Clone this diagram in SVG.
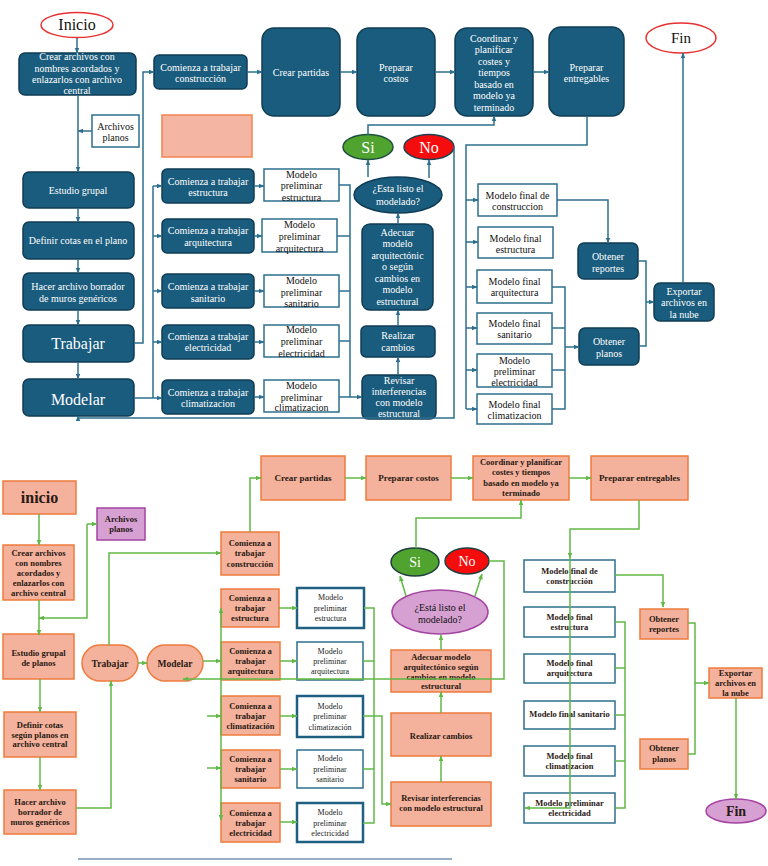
<svg xmlns="http://www.w3.org/2000/svg" width="768" height="866" viewBox="0 0 768 866">
<style>
.tn{fill:#1a5c7d;stroke:#103d55;stroke-width:1.5}
.tw{fill:#fff;stroke:#2d6f8f;stroke-width:1.5}
.tt{font-family:"Liberation Serif",serif;font-size:10px;fill:#fff;text-anchor:middle}
.tk{font-family:"Liberation Serif",serif;font-size:10px;fill:#111;text-anchor:middle}
.tl{fill:none;stroke:#2d6f8f;stroke-width:1.5}
.ta{fill:none;stroke:#2d6f8f;stroke-width:1.5;marker-end:url(#at)}
.bn{fill:#f4b19b;stroke:#ee7b3d;stroke-width:1.5}
.bp{fill:#d6a0d2;stroke:#a544a2;stroke-width:1.5}
.bw{fill:#fff;stroke:#2d6f8f;stroke-width:1.5}
.bw2{fill:#fff;stroke:#1f6080;stroke-width:2.5}
.bt{font-family:"Liberation Serif",serif;font-size:8.5px;font-weight:bold;fill:#2a1a14;text-anchor:middle}
.br{font-family:"Liberation Serif",serif;font-size:8px;fill:#222;text-anchor:middle}
.bl{fill:none;stroke:#62b846;stroke-width:1.5}
.ba{fill:none;stroke:#62b846;stroke-width:1.5;marker-end:url(#ag)}
</style>
<defs>
<marker id="at" viewBox="0 0 10 10" refX="9" refY="5" markerWidth="6" markerHeight="6" markerUnits="userSpaceOnUse" orient="auto-start-reverse"><path d="M0 1L10 5L0 9z" fill="#2d6f8f"/></marker>
<marker id="ag" viewBox="0 0 10 10" refX="9" refY="5" markerWidth="6" markerHeight="6" markerUnits="userSpaceOnUse" orient="auto-start-reverse"><path d="M0 1L10 5L0 9z" fill="#62b846"/></marker>
</defs>
<rect width="768" height="866" fill="#fff"/>

<!-- TOP DIAGRAM -->
<g id="t-inicio"><ellipse cx="77" cy="25" rx="36" ry="12.5" fill="#fff" stroke="#e83030" stroke-width="1.5"/><text x="77" y="30" class="tk" style="font-size:16px">Inicio</text></g>
<g id="t-crear"><rect x="19" y="53" width="117" height="42" rx="6" class="tn"/><text class="tt"><tspan x="77" y="60">Crear archivos con</tspan><tspan x="77" y="71.5">nombres acordados y</tspan><tspan x="77" y="83">enlazarlos con archivo</tspan><tspan x="77" y="94">central</tspan></text></g>
<g id="t-archivos"><rect x="92" y="115" width="47" height="32" class="tw"/><text class="tk"><tspan x="115.5" y="129.5">Archivos</tspan><tspan x="115.5" y="140.5">planos</tspan></text></g>
<g id="t-estudio"><rect x="23" y="172" width="111" height="36" rx="6" class="tn"/><text x="78" y="193.5" class="tt">Estudio grupal</text></g>
<g id="t-definir"><rect x="23" y="222" width="111" height="37" rx="6" class="tn"/><text x="78" y="243.5" class="tt">Definir cotas en el plano</text></g>
<g id="t-hacer"><rect x="23" y="273" width="111" height="37" rx="6" class="tn"/><text class="tt"><tspan x="78" y="289.5">Hacer archivo borrador</tspan><tspan x="78" y="301.5">de muros genéricos</tspan></text></g>
<g id="t-trabajar"><rect x="23" y="325" width="111" height="37" rx="6" class="tn"/><text x="78" y="349" class="tt" style="font-size:16px">Trabajar</text></g>
<g id="t-modelar"><rect x="23" y="379" width="111" height="37" rx="6" class="tn"/><text x="78" y="404.5" class="tt" style="font-size:16px">Modelar</text></g>
<g id="t-salmon"><rect x="162" y="115" width="90" height="42" fill="#f4b6a2" stroke="#f08450" stroke-width="1.5"/></g>
<g id="t-com-cons"><rect x="154" y="55" width="93" height="34" rx="5" class="tn"/><text class="tt"><tspan x="200.5" y="70.5">Comienza a trabajar</tspan><tspan x="200.5" y="81.5">construcción</tspan></text></g>
<g id="t-partidas"><rect x="262" y="28" width="78" height="88" rx="12" class="tn"/><text x="301" y="75.5" class="tt">Crear partidas</text></g>
<g id="t-costos"><rect x="357" y="28" width="78" height="88" rx="12" class="tn"/><text class="tt"><tspan x="396" y="70.5">Preparar</tspan><tspan x="396" y="81.5">costos</tspan></text></g>
<g id="t-coord"><rect x="455" y="28" width="78" height="88" rx="12" class="tn"/><text class="tt"><tspan x="494" y="41.5">Coordinar y</tspan><tspan x="494" y="53">planificar</tspan><tspan x="494" y="64.5">costes y</tspan><tspan x="494" y="76">tiempos</tspan><tspan x="494" y="87.5">basado en</tspan><tspan x="494" y="99">modelo ya</tspan><tspan x="494" y="110.5">terminado</tspan></text></g>
<g id="t-entreg"><rect x="549" y="27" width="75" height="89" rx="12" class="tn"/><text class="tt"><tspan x="586.5" y="70.5">Preparar</tspan><tspan x="586.5" y="81.5">entregables</tspan></text></g>
<g id="t-fin"><ellipse cx="681" cy="38" rx="35" ry="15" fill="#fff" stroke="#e83030" stroke-width="1.5"/><text x="681" y="43" class="tk" style="font-size:15px">Fin</text></g>
<g id="t-si"><ellipse cx="368" cy="147" rx="25" ry="12.5" fill="#4fa32e" stroke="#1f4f3f" stroke-width="1.5"/><text x="368" y="152.5" class="tt" style="font-size:16px">Si</text></g>
<g id="t-no"><ellipse cx="429" cy="147" rx="25" ry="12.5" fill="#f50d0d" stroke="#1f3f4f" stroke-width="1.5"/><text x="429" y="152.5" class="tt" style="font-size:16px">No</text></g>
<g id="t-listo"><ellipse cx="398" cy="195" rx="44" ry="18" class="tn"/><text class="tt"><tspan x="398" y="191.5">¿Esta listo el</tspan><tspan x="398" y="204.5">modelado?</tspan></text></g>
<g id="t-adecuar"><rect x="362" y="224" width="71" height="86" rx="8" class="tn"/><text class="tt"><tspan x="397.5" y="235.5">Adecuar</tspan><tspan x="397.5" y="247">modelo</tspan><tspan x="397.5" y="258.5">arquitectónic</tspan><tspan x="397.5" y="270">o según</tspan><tspan x="397.5" y="281.5">cambios en</tspan><tspan x="397.5" y="293">modelo</tspan><tspan x="397.5" y="304.5">estructural</tspan></text></g>
<g id="t-realizar"><rect x="361" y="326" width="74" height="31" rx="5" class="tn"/><text class="tt"><tspan x="398" y="338.5">Realizar</tspan><tspan x="398" y="350.5">cambios</tspan></text></g>
<g id="t-revisar"><rect x="362" y="375" width="74" height="44" rx="6" class="tn"/><text class="tt"><tspan x="399" y="383.5">Revisar</tspan><tspan x="399" y="394.5">interferencias</tspan><tspan x="399" y="405.5">con modelo</tspan><tspan x="399" y="417">estructural</tspan></text></g>
<g id="t-com-est"><rect x="162" y="169" width="92" height="34" rx="5" class="tn"/><text class="tt"><tspan x="208" y="184.5">Comienza a trabajar</tspan><tspan x="208" y="195.5">estructura</tspan></text></g>
<g id="t-com-arq"><rect x="162" y="219" width="92" height="34" rx="5" class="tn"/><text class="tt"><tspan x="208" y="233.5">Comienza a trabajar</tspan><tspan x="208" y="245.5">arquitectura</tspan></text></g>
<g id="t-com-san"><rect x="162" y="274" width="92" height="34" rx="5" class="tn"/><text class="tt"><tspan x="208" y="289.5">Comienza a trabajar</tspan><tspan x="208" y="301.5">sanitario</tspan></text></g>
<g id="t-com-ele"><rect x="162" y="325" width="92" height="34" rx="5" class="tn"/><text class="tt"><tspan x="208" y="339.5">Comienza a trabajar</tspan><tspan x="208" y="350.5">electricidad</tspan></text></g>
<g id="t-com-cli"><rect x="162" y="380" width="92" height="34" rx="5" class="tn"/><text class="tt"><tspan x="208" y="395.5">Comienza a trabajar</tspan><tspan x="208" y="406.5">climatizacion</tspan></text></g>
<g id="t-pre-est"><rect x="264" y="169" width="75" height="32" class="tw"/><text class="tk"><tspan x="301.5" y="177.5">Modelo</tspan><tspan x="301.5" y="189">preliminar</tspan><tspan x="301.5" y="200.5">estructura</tspan></text></g>
<g id="t-pre-arq"><rect x="262" y="219" width="75" height="33" class="tw"/><text class="tk"><tspan x="299.5" y="227.5">Modelo</tspan><tspan x="299.5" y="239.5">preliminar</tspan><tspan x="299.5" y="251.5">arquitectura</tspan></text></g>
<g id="t-pre-san"><rect x="264" y="275" width="75" height="32" class="tw"/><text class="tk"><tspan x="301.5" y="283.5">Modelo</tspan><tspan x="301.5" y="295.5">preliminar</tspan><tspan x="301.5" y="306.5">sanitario</tspan></text></g>
<g id="t-pre-ele"><rect x="264" y="325" width="75" height="32" class="tw"/><text class="tk"><tspan x="301.5" y="332.5">Modelo</tspan><tspan x="301.5" y="345">preliminar</tspan><tspan x="301.5" y="356.5">electricidad</tspan></text></g>
<g id="t-pre-cli"><rect x="264" y="380" width="75" height="32" class="tw"/><text class="tk"><tspan x="301.5" y="388.5">Modelo</tspan><tspan x="301.5" y="400.5">preliminar</tspan><tspan x="301.5" y="411">climatizacion</tspan></text></g>
<g id="t-fin-cons"><rect x="478" y="184" width="79" height="32" class="tw"/><text class="tk"><tspan x="517.5" y="198.5">Modelo final de</tspan><tspan x="517.5" y="209.5">construccion</tspan></text></g>
<g id="t-fin-est"><rect x="478" y="227" width="75" height="31" class="tw"/><text class="tk"><tspan x="515.5" y="241.5">Modelo final</tspan><tspan x="515.5" y="252.5">estructura</tspan></text></g>
<g id="t-fin-arq"><rect x="477" y="270" width="75" height="33" class="tw"/><text class="tk"><tspan x="514.5" y="284.5">Modelo final</tspan><tspan x="514.5" y="295.5">arquitectura</tspan></text></g>
<g id="t-fin-san"><rect x="477" y="313" width="75" height="31" class="tw"/><text class="tk"><tspan x="514.5" y="326.5">Modelo final</tspan><tspan x="514.5" y="337.5">sanitario</tspan></text></g>
<g id="t-fin-ele"><rect x="477" y="354" width="75" height="33" class="tw"/><text class="tk"><tspan x="514.5" y="363.5">Modelo</tspan><tspan x="514.5" y="374.5">preliminar</tspan><tspan x="514.5" y="385.5">electricidad</tspan></text></g>
<g id="t-fin-cli"><rect x="477" y="394" width="75" height="30" class="tw"/><text class="tk"><tspan x="514.5" y="407.5">Modelo final</tspan><tspan x="514.5" y="419">climatizacion</tspan></text></g>
<g id="t-reportes"><rect x="578" y="243" width="60" height="36" rx="6" class="tn"/><text class="tt"><tspan x="608" y="259.5">Obtener</tspan><tspan x="608" y="271.5">reportes</tspan></text></g>
<g id="t-planos"><rect x="579" y="328" width="60" height="37" rx="6" class="tn"/><text class="tt"><tspan x="609" y="344.5">Obtener</tspan><tspan x="609" y="356.5">planos</tspan></text></g>
<g id="t-exportar"><rect x="654" y="283" width="60" height="38" rx="6" class="tn"/><text class="tt"><tspan x="684" y="294.5">Exportar</tspan><tspan x="684" y="305.5">archivos en</tspan><tspan x="684" y="317.5">la nube</tspan></text></g>

<g id="t-connectors">
<path class="ta" d="M77 38V53"/>
<path class="ta" d="M78 95V172"/>
<path class="ta" d="M92 131H78"/>
<path class="ta" d="M78 208V222"/>
<path class="ta" d="M78 259V273"/>
<path class="ta" d="M78 310V325"/>
<path class="ta" d="M78 362V379"/>
<path class="ta" d="M134 343H143V72H154"/>
<path class="ta" d="M134 398H162"/>
<path class="tl" d="M153 186V398"/>
<path class="ta" d="M153 186H162"/>
<path class="ta" d="M153 236H162"/>
<path class="ta" d="M153 291H162"/>
<path class="ta" d="M153 342H162"/>
<path class="ta" d="M247 72H262"/>
<path class="ta" d="M340 72H357"/>
<path class="ta" d="M435 72H455"/>
<path class="ta" d="M533 72H549"/>
<path class="ta" d="M254 186H264"/>
<path class="ta" d="M254 236H262"/>
<path class="ta" d="M254 291H264"/>
<path class="ta" d="M254 342H264"/>
<path class="ta" d="M254 397H264"/>
<path class="tl" d="M339 185H350V397"/>
<path class="tl" d="M337 236H350"/>
<path class="tl" d="M339 291H350"/>
<path class="tl" d="M339 341H350"/>
<path class="ta" d="M339 397H362"/>
<path class="ta" d="M398 375V357"/>
<path class="ta" d="M398 326V310"/>
<path class="ta" d="M398 224V213"/>
<path class="ta" d="M368 177V160"/>
<path class="ta" d="M429 178V160"/>
<path class="ta" d="M368 135V125H494V116"/>
<path class="ta" d="M454 147V418H78V416"/>
<path class="tl" d="M587 116V145H466V409"/>
<path class="ta" d="M466 200H478"/>
<path class="ta" d="M466 242H478"/>
<path class="ta" d="M466 287H477"/>
<path class="ta" d="M466 328H477"/>
<path class="ta" d="M466 370H477"/>
<path class="ta" d="M466 409H477"/>
<path class="ta" d="M557 200H608V243"/>
<path class="tl" d="M552 287H565V409H552"/>
<path class="tl" d="M552 328H565"/>
<path class="tl" d="M552 370H565"/>
<path class="ta" d="M565 347H579"/>
<path class="tl" d="M638 261H646V346H639"/>
<path class="ta" d="M646 302H654"/>
<path class="ta" d="M683 283V53"/>
</g>

<!-- BOTTOM DIAGRAM -->
<g id="b-inicio"><rect x="3" y="481" width="73" height="33" class="bn"/><text x="39.5" y="503" class="bt" style="font-size:16px">inicio</text></g>
<g id="b-crear"><rect x="3" y="545" width="71" height="55" class="bn"/><text class="bt"><tspan x="38.5" y="556">Crear archivos</tspan><tspan x="38.5" y="566">con nombres</tspan><tspan x="38.5" y="576">acordados y</tspan><tspan x="38.5" y="586">enlazarlos con</tspan><tspan x="38.5" y="596">archivo central</tspan></text></g>
<g id="b-archivos"><rect x="97" y="508" width="48" height="32" class="bp"/><text class="bt"><tspan x="121" y="522">Archivos</tspan><tspan x="121" y="532">planos</tspan></text></g>
<g id="b-estudio"><rect x="3" y="634" width="71" height="45" class="bn"/><text class="bt"><tspan x="38.5" y="656">Estudio grupal</tspan><tspan x="38.5" y="666">de planos</tspan></text></g>
<g id="b-definir"><rect x="4" y="712" width="72" height="45" class="bn"/><text class="bt"><tspan x="40" y="728">Definir cotas</tspan><tspan x="40" y="738">según planos en</tspan><tspan x="40" y="747">archivo central</tspan></text></g>
<g id="b-hacer"><rect x="4" y="790" width="72" height="44" class="bn"/><text class="bt"><tspan x="40" y="805">Hacer archivo</tspan><tspan x="40" y="815">borrador de</tspan><tspan x="40" y="825">muros genéricos</tspan></text></g>
<g id="b-trabajar"><rect x="82" y="645" width="56" height="36" rx="18" class="bn"/><text x="110" y="666.5" class="bt" style="font-size:9.5px">Trabajar</text></g>
<g id="b-modelar"><rect x="147" y="645" width="56" height="36" rx="18" class="bn"/><text x="175" y="666.5" class="bt" style="font-size:9.5px">Modelar</text></g>
<g id="b-com-cons"><rect x="221" y="532" width="58" height="43" class="bn"/><text class="bt"><tspan x="250" y="546">Comienza a</tspan><tspan x="250" y="556">trabajar</tspan><tspan x="250" y="567">construcción</tspan></text></g>
<g id="b-partidas"><rect x="261" y="456" width="84" height="44" class="bn"/><text x="303" y="481" class="bt" style="font-size:9px">Crear partidas</text></g>
<g id="b-costos"><rect x="366" y="456" width="85" height="44" class="bn"/><text x="408.5" y="481" class="bt" style="font-size:9px">Preparar costos</text></g>
<g id="b-coord"><rect x="473" y="456" width="96" height="44" class="bn"/><text class="bt"><tspan x="521" y="465">Coordinar y planificar</tspan><tspan x="521" y="475">costes y tiempos</tspan><tspan x="521" y="486">basado en modelo ya</tspan><tspan x="521" y="496">terminado</tspan></text></g>
<g id="b-entreg"><rect x="591" y="456" width="97" height="44" class="bn"/><text x="639.5" y="481" class="bt" style="font-size:9px">Preparar entregables</text></g>
<g id="b-com-est"><rect x="221" y="589" width="58" height="38" class="bn"/><text class="bt"><tspan x="250" y="601">Comienza a</tspan><tspan x="250" y="611">trabajar</tspan><tspan x="250" y="621">estructura</tspan></text></g>
<g id="b-com-arq"><rect x="221" y="642" width="59" height="38" class="bn"/><text class="bt"><tspan x="250.5" y="654">Comienza a</tspan><tspan x="250.5" y="664">trabajar</tspan><tspan x="250.5" y="674">arquitectura</tspan></text></g>
<g id="b-com-cli"><rect x="221" y="696" width="59" height="39" class="bn"/><text class="bt"><tspan x="250.5" y="709">Comienza a</tspan><tspan x="250.5" y="719">trabajar</tspan><tspan x="250.5" y="729">climatización</tspan></text></g>
<g id="b-com-san"><rect x="221" y="750" width="59" height="38" class="bn"/><text class="bt"><tspan x="250.5" y="762">Comienza a</tspan><tspan x="250.5" y="772">trabajar</tspan><tspan x="250.5" y="782">sanitario</tspan></text></g>
<g id="b-com-ele"><rect x="221" y="803" width="59" height="39" class="bn"/><text class="bt"><tspan x="250.5" y="816">Comienza a</tspan><tspan x="250.5" y="826">trabajar</tspan><tspan x="250.5" y="836">electricidad</tspan></text></g>
<g id="b-pre-est"><rect x="297" y="588" width="67" height="40" class="bw2"/><text class="br"><tspan x="330.5" y="600">Modelo</tspan><tspan x="330.5" y="611">preliminar</tspan><tspan x="330.5" y="621">estructura</tspan></text></g>
<g id="b-pre-arq"><rect x="297" y="642" width="66" height="38" class="bw"/><text class="br"><tspan x="330" y="654">Modelo</tspan><tspan x="330" y="664">preliminar</tspan><tspan x="330" y="674">arquitectura</tspan></text></g>
<g id="b-pre-cli"><rect x="297" y="696" width="66" height="41" class="bw2"/><text class="br"><tspan x="330" y="709">Modelo</tspan><tspan x="330" y="719">preliminar</tspan><tspan x="330" y="730">climatización</tspan></text></g>
<g id="b-pre-san"><rect x="297" y="750" width="66" height="38" class="bw"/><text class="br"><tspan x="330" y="761">Modelo</tspan><tspan x="330" y="772">preliminar</tspan><tspan x="330" y="782">sanitario</tspan></text></g>
<g id="b-pre-ele"><rect x="297" y="803" width="66" height="39" class="bw2"/><text class="br"><tspan x="330" y="815">Modelo</tspan><tspan x="330" y="826">preliminar</tspan><tspan x="330" y="836">electricidad</tspan></text></g>
<g id="b-si"><ellipse cx="415" cy="562" rx="24" ry="14" fill="#4fa32e" stroke="#1f3f3f" stroke-width="1.5"/><text x="415" y="567" class="tt" style="font-size:14px">Si</text></g>
<g id="b-no"><ellipse cx="467" cy="561" rx="22" ry="13" fill="#f50d0d" stroke="#1f3f3f" stroke-width="1.5"/><text x="467" y="566" class="tt" style="font-size:14px">No</text></g>
<g id="b-listo"><ellipse cx="440" cy="612" rx="48" ry="22" class="bp"/><text class="tk"><tspan x="440" y="611">¿Está listo el</tspan><tspan x="440" y="623">modelado?</tspan></text></g>
<g id="b-adecuar"><rect x="391" y="650" width="100" height="42" class="bn"/><text class="bt"><tspan x="441" y="660">Adecuar modelo</tspan><tspan x="441" y="670">arquitectónico según</tspan><tspan x="441" y="680">cambios en modelo</tspan><tspan x="441" y="689">estructural</tspan></text></g>
<g id="b-realizar"><rect x="391" y="713" width="100" height="43" class="bn"/><text x="441" y="739" class="bt">Realizar cambios</text></g>
<g id="b-revisar"><rect x="391" y="782" width="100" height="44" class="bn"/><text class="bt"><tspan x="441" y="801">Revisar interferencias</tspan><tspan x="441" y="811">con modelo estructural</tspan></text></g>
<g id="b-fin-cons"><rect x="524" y="560" width="91" height="32" class="bw"/><text class="bt"><tspan x="569.5" y="574">Modelo final de</tspan><tspan x="569.5" y="584">construcción</tspan></text></g>
<g id="b-fin-est"><rect x="524" y="607" width="91" height="30" class="bw"/><text class="bt"><tspan x="569.5" y="620">Modelo final</tspan><tspan x="569.5" y="630">estructura</tspan></text></g>
<g id="b-fin-arq"><rect x="524" y="654" width="91" height="29" class="bw"/><text class="bt"><tspan x="569.5" y="666">Modelo final</tspan><tspan x="569.5" y="676">arquitectura</tspan></text></g>
<g id="b-fin-san"><rect x="524" y="701" width="91" height="28" class="bw"/><text x="569.5" y="717" class="bt">Modelo final sanitario</text></g>
<g id="b-fin-cli"><rect x="524" y="746" width="91" height="30" class="bw"/><text class="bt"><tspan x="569.5" y="759">Modelo final</tspan><tspan x="569.5" y="769">climatizacion</tspan></text></g>
<g id="b-fin-ele"><rect x="524" y="793" width="91" height="30" class="bw"/><text class="bt"><tspan x="569.5" y="806">Modelo preliminar</tspan><tspan x="569.5" y="816">electricidad</tspan></text></g>
<g id="b-reportes"><rect x="640" y="609" width="48" height="30" class="bn"/><text class="bt"><tspan x="664" y="622">Obtener</tspan><tspan x="664" y="632">reportes</tspan></text></g>
<g id="b-planos"><rect x="640" y="739" width="48" height="30" class="bn"/><text class="bt"><tspan x="664" y="751">Obtener</tspan><tspan x="664" y="762">planos</tspan></text></g>
<g id="b-exportar"><rect x="709" y="668" width="53" height="30" class="bn"/><text class="bt"><tspan x="735.5" y="676">Exportar</tspan><tspan x="735.5" y="686">archivos en</tspan><tspan x="735.5" y="696">la nube</tspan></text></g>
<g id="b-fin"><ellipse cx="736" cy="811" rx="30" ry="12" class="bp"/><text x="736" y="816" class="bt" style="font-size:14px">Fin</text></g>

<g id="b-connectors">
<path class="ba" d="M39 514V545"/>
<path class="ba" d="M39 600V635"/>
<path class="ba" d="M87 524H97"/>
<path class="ba" d="M87 524V618H39"/>
<path class="ba" d="M40 679V712"/>
<path class="ba" d="M40 757V790"/>
<path class="ba" d="M76 808H111V681"/>
<path class="ba" d="M138 663H147"/>
<path class="ba" d="M109 645V553H221"/>
<path class="ba" d="M250 532V478H261"/>
<path class="ba" d="M345 478H366"/>
<path class="ba" d="M451 478H473"/>
<path class="ba" d="M569 478H591"/>
<path class="ba" d="M203 661H221"/>
<path class="ba" d="M221 820V608" style="marker-start:url(#ag)"/>
<path class="ba" d="M207 716H221"/>
<path class="ba" d="M207 768H221"/>
<path class="ba" d="M279 608H297"/>
<path class="ba" d="M280 661H297"/>
<path class="ba" d="M280 716H297"/>
<path class="ba" d="M280 769H297"/>
<path class="ba" d="M280 822H297"/>
<path class="bl" d="M364 608H374V823H363"/>
<path class="bl" d="M363 661H374"/>
<path class="bl" d="M363 769H374"/>
<path class="ba" d="M363 716H382V804H391"/>
<path class="ba" d="M441 782V756"/>
<path class="ba" d="M441 713V692"/>
<path class="ba" d="M441 650V635"/>
<path class="ba" d="M406 596L400 576"/>
<path class="ba" d="M475 596L482 574"/>
<path class="ba" d="M416 548V518H521V500"/>
<path class="ba" d="M489 561H504V679H183"/>
<path class="ba" d="M639 500V529H570V558"/>
<path class="ba" d="M570 558V808H525"/>
<path class="ba" d="M615 575H663V607"/>
<path class="bl" d="M615 622H625V808H615"/>
<path class="bl" d="M615 668H625"/>
<path class="bl" d="M615 715H625"/>
<path class="bl" d="M615 761H625"/>
<path class="bl" d="M688 623H695V754H688"/>
<path class="ba" d="M695 683H709"/>
<path class="ba" d="M736 698V799"/>
</g>
<path d="M78 859H452" stroke="#2e6085" stroke-width="1.2"/>
</svg>
